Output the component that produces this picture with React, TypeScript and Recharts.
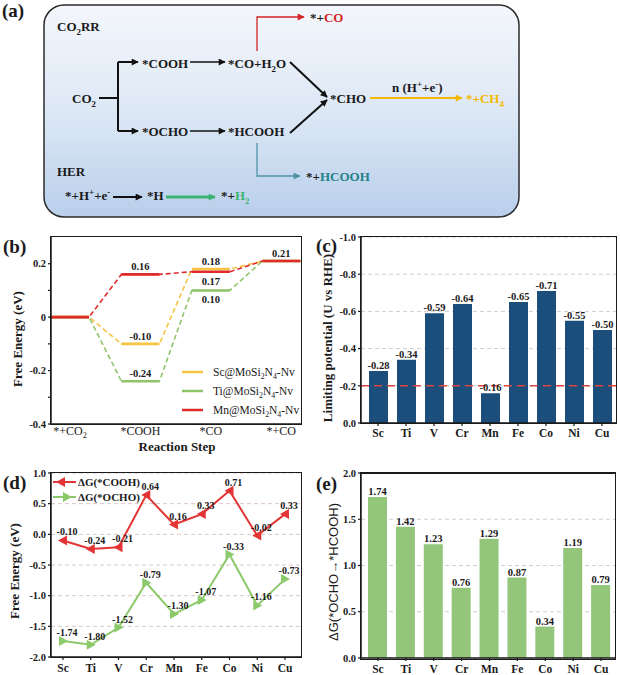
import React from "react";
import {
  LineChart,
  Line,
  BarChart,
  Bar,
  XAxis,
  YAxis,
  CartesianGrid,
  ReferenceLine,
  LabelList,
  Legend,
} from "recharts";

const SERIF = '"Liberation Serif", "Times New Roman", Times, serif';
const SANS = '"Liberation Sans", Arial, sans-serif';
const INK = "#1a1a1a";

// (b) free energy profile
const steps = ["*+CO2", "*COOH", "*CO", "*+CO"];
const scLevels = [0, -0.1, 0.18, 0.21];
const tiLevels = [0, -0.24, 0.1, 0.21];
const mnLevels = [0, 0.16, 0.17, 0.21];
const energyTicks = [-0.4, -0.3, -0.2, -0.1, 0, 0.1, 0.2];
const energyTickLabels = ["-0.4", "", "-0.2", "", "0", "", "0.2"];

// (c) limiting potential
const metals = ["Sc", "Ti", "V", "Cr", "Mn", "Fe", "Co", "Ni", "Cu"];
const limitingPotential = [-0.28, -0.34, -0.59, -0.64, -0.16, -0.65, -0.71, -0.55, -0.5];
const potentialTicks = [-1, -0.8, -0.6, -0.4, -0.2, 0];

// (d) adsorption free energies
const dgCOOH = [-0.1, -0.24, -0.21, 0.64, 0.16, 0.33, 0.71, -0.02, 0.33];
const dgOCHO = [-1.74, -1.8, -1.52, -0.79, -1.3, -1.07, -0.33, -1.16, -0.73];
const adsorptionTicks = [-2, -1.5, -1, -0.5, 0, 0.5, 1];

// (e) *OCHO -> *HCOOH
const dgOchoToHcooh = [1.74, 1.42, 1.23, 0.76, 1.29, 0.87, 0.34, 1.19, 0.79];
const barrierTicks = [0, 0.5, 1, 1.5, 2];

const C_SC = "#f7c443";
const C_TI = "#8fc46b";
const C_MN = "#e02b2b";
const C_NAVY = "#1c4e7b";
const C_GREEN_BAR = "#93c57a";
const C_RED = "#e33535";
const C_GREEN = "#8cc96b";

// subscripts for digits in chemical names
function chem(text: string, size: number) {
  const parts = text.split(/(\d+)/).filter((p) => p !== "");
  let lowered = false;
  return parts.map((part, i) => {
    if (/^\d+$/.test(part)) {
      lowered = true;
      return (
        <tspan key={i} fontSize={size * 0.68} dy={size * 0.28}>
          {part}
        </tspan>
      );
    }
    const dy = lowered ? -size * 0.28 : 0;
    lowered = false;
    return (
      <tspan key={i} dy={dy}>
        {part}
      </tspan>
    );
  });
}

// rows for the step diagram: each level is a short flat segment, gaps between
const HALF = 0.27;
const levelRows: any[] = [];
steps.forEach((_, i) => {
  [-HALF, 0, HALF].forEach((dx) =>
    levelRows.push({
      x: i + dx,
      step: dx === 0 ? i : undefined,
      sc: scLevels[i],
      ti: tiLevels[i],
      mn: mnLevels[i],
      scDash: scLevels[i],
      tiDash: tiLevels[i],
      mnDash: mnLevels[i],
    })
  );
  if (i < steps.length - 1) {
    levelRows.push({ x: i + 0.5, sc: null, ti: null, mn: null, scDash: null, tiDash: null, mnDash: null });
  }
});

const labelPlaces: Record<string, (string | null)[]> = {
  sc: [null, "above", "above", null],
  ti: [null, "above", "below", null],
  mn: [null, "above", "below", "above"],
};

const levelLabel = (key: string) => (props: any) => {
  const { x, y, index } = props;
  const row = levelRows[index];
  if (!row || row.step === undefined) return null;
  const place = labelPlaces[key][row.step];
  if (!place) return null;
  return (
    <text
      key={`${key}-${index}`}
      x={x}
      y={place === "above" ? y - 4 : y + 13}
      textAnchor="middle"
      fontFamily={SERIF}
      fontWeight="bold"
      fontSize={10.5}
      fill={INK}
    >
      {row[key].toFixed(2)}
    </text>
  );
};

const StepTick = (props: any) => {
  const { x, y, payload } = props;
  return (
    <text x={x} y={y + 3} textAnchor="middle" fontFamily={SERIF} fontSize={12} fill={INK}>
      {chem(steps[payload.value], 12)}
    </text>
  );
};

const catalysts = [
  { name: "Sc@MoSi2N4-Nv", color: C_SC },
  { name: "Ti@MoSi2N4-Nv", color: C_TI },
  { name: "Mn@MoSi2N4-Nv", color: C_MN },
];

const StepLegend = () => (
  <svg width={130} height={60}>
    {catalysts.map((c, i) => (
      <g key={c.name}>
        <line x1={4} x2={25} y1={9 + i * 19} y2={9 + i * 19} stroke={c.color} strokeWidth={2.5} />
        <text x={35} y={13 + i * 19} fontFamily={SERIF} fontSize={11.5} fill={INK}>
          {chem(c.name, 11.5)}
        </text>
      </g>
    ))}
  </svg>
);

const metalRows = metals.map((m, i) => ({
  metal: m,
  ul: limitingPotential[i],
  cooh: dgCOOH[i],
  ocho: dgOCHO[i],
  barrier: dgOchoToHcooh[i],
}));

const Triangle = ({ cx, cy, dir, color }: any) => {
  if (cx == null || cy == null) return null;
  const pts =
    dir === "left"
      ? `${cx - 5},${cy} ${cx + 4},${cy - 5} ${cx + 4},${cy + 5}`
      : `${cx + 5},${cy} ${cx - 4},${cy - 5} ${cx - 4},${cy + 5}`;
  return <polygon points={pts} fill={color} />;
};

const pointLabel = (props: any) => {
  const { x, y, value, index } = props;
  return (
    <text
      key={`pl-${index}-${value}`}
      x={x + 4}
      y={y - 5}
      textAnchor="middle"
      fontFamily={SERIF}
      fontWeight="bold"
      fontSize={10}
      fill={INK}
    >
      {Number(value).toFixed(2)}
    </text>
  );
};

const adsorptionSeries = [
  { name: "ΔG(*COOH)", color: C_RED, dir: "left" },
  { name: "ΔG(*OCHO)", color: C_GREEN, dir: "right" },
];

const AdsorptionLegend = () => (
  <svg width={100} height={36}>
    {adsorptionSeries.map((s, i) => (
      <g key={s.name}>
        <line x1={2} x2={25} y1={8 + i * 15} y2={8 + i * 15} stroke={s.color} strokeWidth={2} />
        <Triangle cx={s.dir === "left" ? 10 : 16} cy={8 + i * 15} dir={s.dir} color={s.color} />
        <text x={27} y={12 + i * 15} fontFamily={SERIF} fontWeight="bold" fontSize={11} fill={INK}>
          {s.name}
        </text>
      </g>
    ))}
  </svg>
);

const axisLine = { stroke: INK, strokeWidth: 1.5 };
const tickLine = { stroke: INK, strokeWidth: 1.2 };
const yTick = { fontFamily: SERIF, fontWeight: "bold", fontSize: 10.5, fill: INK };
const xTick = { fontFamily: SERIF, fontWeight: "bold", fontSize: 11.5, fill: INK };

const panelLabel = (text: string, left: number, top: number) => (
  <div
    style={{
      position: "absolute",
      left,
      top,
      fontFamily: SERIF,
      fontWeight: "bold",
      fontSize: 19,
      lineHeight: "20px",
      color: INK,
    }}
  >
    {text}
  </div>
);

// plot frame (top and right sides of the box around each panel)
const plotFrame = (left: number, top: number, width: number, height: number, topWidth = 1.5) => (
  <div
    style={{
      position: "absolute",
      left: left - 0.75,
      top: top - 0.75,
      width,
      height,
      border: `1.5px solid ${INK}`,
      borderTopWidth: topWidth,
      pointerEvents: "none",
    }}
  />
);

const axisTitle = (text: string, cx: number, cy: number, rotate: boolean, font = SERIF, weight = "bold") => (
  <div
    style={{
      position: "absolute",
      left: cx,
      top: cy,
      transform: `translate(-50%, -50%)${rotate ? " rotate(-90deg)" : ""}`,
      whiteSpace: "nowrap",
      fontFamily: font,
      fontWeight: weight as any,
      fontSize: 13,
      color: INK,
    }}
  >
    {text}
  </div>
);

function Scheme() {
  const fs = 13;
  const T = ({ x, y, fill = INK, children }: any) => (
    <text x={x} y={y} fontFamily={SERIF} fontWeight="bold" fontSize={fs} fill={fill}>
      {children}
    </text>
  );
  return (
    <svg width={620} height={222} style={{ position: "absolute", left: 0, top: 0 }}>
      <defs>
        <linearGradient id="schemeBg" x1="0" y1="0" x2="0" y2="1">
          <stop offset="0" stopColor="#f4f7fc" />
          <stop offset="0.5" stopColor="#dde8f5" />
          <stop offset="1" stopColor="#b9cfeb" />
        </linearGradient>
        {[
          ["ahBlack", "#111"],
          ["ahRed", "#d42424"],
          ["ahOrange", "#f5b800"],
          ["ahTeal", "#4f93a6"],
          ["ahGreen", "#3cb371"],
        ].map(([id, c]) => (
          <marker
            key={id}
            id={id}
            viewBox="0 0 10 10"
            refX={9}
            refY={5}
            markerWidth={8}
            markerHeight={7}
            markerUnits="userSpaceOnUse"
            orient="auto"
          >
            <path d="M0,0 L10,5 L0,10 z" fill={c} />
          </marker>
        ))}
      </defs>
      <text x={2} y={17} fontFamily={SERIF} fontWeight="bold" fontSize={19} fill={INK}>
        (a)
      </text>
      <rect x={44} y={5} width={475} height={212} rx={20} fill="url(#schemeBg)" stroke="#2b2b2b" strokeWidth={1.5} />

      <g stroke="#111" strokeWidth={2} fill="none">
        <path d="M99,98 H118 M118,62 V131" />
        <path d="M118,62 H138" markerEnd="url(#ahBlack)" />
        <path d="M118,131 H138" markerEnd="url(#ahBlack)" />
        <path d="M190,62 H225" markerEnd="url(#ahBlack)" strokeWidth={1.6} />
        <path d="M190,131 H225" markerEnd="url(#ahBlack)" strokeWidth={1.6} />
        <path d="M290,62 L327,97" markerEnd="url(#ahBlack)" />
        <path d="M290,133 L327,100" markerEnd="url(#ahBlack)" />
        <path d="M113,197 H142" markerEnd="url(#ahBlack)" />
      </g>
      <path d="M257,51 V17 H304" stroke="#d42424" strokeWidth={1.3} fill="none" markerEnd="url(#ahRed)" />
      <path d="M370,98 H462" stroke="#f5b800" strokeWidth={2.2} fill="none" markerEnd="url(#ahOrange)" />
      <path d="M257,143 V176 H300" stroke="#4f93a6" strokeWidth={1.3} fill="none" markerEnd="url(#ahTeal)" />
      <path d="M166,197 H215" stroke="#3cb371" strokeWidth={3} fill="none" markerEnd="url(#ahGreen)" />

      <T x={57} y={31}>{chem("CO2RR", fs)}</T>
      <T x={142} y={68}>*COOH</T>
      <T x={228} y={68}>{chem("*CO+H2O", fs)}</T>
      <T x={72} y={103}>{chem("CO2", fs)}</T>
      <T x={330} y={103}>*CHO</T>
      <T x={142} y={136}>*OCHO</T>
      <T x={228} y={136}>*HCOOH</T>
      <T x={392} y={92}>
        n (H<tspan fontSize={9} dy={-5}>+</tspan>
        <tspan dy={5}>+e</tspan>
        <tspan fontSize={9} dy={-5}>-</tspan>
        <tspan dy={5}>)</tspan>
      </T>
      <T x={466} y={103} fill="#f5b800">{chem("*+CH4", fs)}</T>
      <T x={310} y={22}>
        *+<tspan fill="#d42424">CO</tspan>
      </T>
      <T x={57} y={176}>HER</T>
      <T x={306} y={181}>
        *+<tspan fill="#23828a">HCOOH</tspan>
      </T>
      <T x={65} y={200}>
        *+H<tspan fontSize={9} dy={-5}>+</tspan>
        <tspan dy={5}>+e</tspan>
        <tspan fontSize={9} dy={-5}>-</tspan>
      </T>
      <T x={147} y={200}>*H</T>
      <T x={221} y={200}>
        *+<tspan fill="#3cb371">H</tspan>
        <tspan fill="#3cb371" fontSize={fs * 0.68} dy={fs * 0.28}>2</tspan>
      </T>
    </svg>
  );
}

export default function App() {
  return (
    <div style={{ position: "absolute", left: 0, top: 0, width: 620, height: 675, background: "#fff", overflow: "hidden" }}>
      <Scheme />

      {/* (b) */}
      <div style={{ position: "absolute", left: 0, top: 230 }}>
        <LineChart width={310} height={225} data={levelRows} margin={{ top: 7, right: 9, bottom: 5, left: 0 }}>
          <XAxis
            type="number"
            dataKey="x"
            domain={[-HALF, 3 + 0.28]}
            ticks={[0, 1, 2, 3]}
            allowDataOverflow
            height={26}
            axisLine={axisLine}
            tickLine={false}
            tick={<StepTick />}
          />
          <YAxis
            width={51}
            domain={[-0.4, 0.3]}
            ticks={energyTicks}
            allowDataOverflow
            tickFormatter={(v: number) => energyTickLabels[energyTicks.indexOf(v)] ?? ""}
            axisLine={axisLine}
            tickLine={tickLine}
            tickSize={3}
            tickMargin={2}
            tick={yTick}
          />
          <Line dataKey="scDash" stroke={C_SC} strokeWidth={1.6} strokeDasharray="5 3" dot={false} connectNulls isAnimationActive={false} />
          <Line dataKey="tiDash" stroke={C_TI} strokeWidth={1.6} strokeDasharray="5 3" dot={false} connectNulls isAnimationActive={false} />
          <Line dataKey="mnDash" stroke={C_MN} strokeWidth={1.6} strokeDasharray="5 3" dot={false} connectNulls isAnimationActive={false} />
          <Line dataKey="sc" stroke={C_SC} strokeWidth={2.6} dot={false} isAnimationActive={false}>
            <LabelList dataKey="sc" content={levelLabel("sc")} />
          </Line>
          <Line dataKey="ti" stroke={C_TI} strokeWidth={2.6} dot={false} isAnimationActive={false}>
            <LabelList dataKey="ti" content={levelLabel("ti")} />
          </Line>
          <Line dataKey="mn" stroke={C_MN} strokeWidth={2.6} dot={false} isAnimationActive={false}>
            <LabelList dataKey="mn" content={levelLabel("mn")} />
          </Line>
          <Legend
            layout="vertical"
            align="center"
            verticalAlign="middle"
            content={() => <StepLegend />}
            wrapperStyle={{ position: "absolute", left: 178, top: 133, width: 130, height: 60 }}
          />
        </LineChart>
      </div>
      {plotFrame(51, 237, 250, 187)}
      {panelLabel("(b)", 3, 237)}
      {axisTitle("Free Energy (eV)", 18, 339, true)}
      {axisTitle("Reaction Step", 177, 447, false)}

      {/* (c) */}
      <div style={{ position: "absolute", left: 310, top: 230 }}>
        <BarChart width={310} height={225} data={metalRows} margin={{ top: 7, right: 4, bottom: 5, left: 0 }}>
          <CartesianGrid vertical={false} stroke="#cfcfcf" strokeDasharray="4 3" />
          <XAxis
            dataKey="metal"
            height={27}
            padding={{ left: 3, right: 0 }}
            axisLine={axisLine}
            tickLine={tickLine}
            tickSize={3}
            tickMargin={3}
            tick={xTick}
          />
          <YAxis
            width={51}
            reversed
            domain={[-1, 0]}
            ticks={potentialTicks}
            tickFormatter={(v: number) => v.toFixed(1)}
            axisLine={axisLine}
            tickLine={tickLine}
            tickSize={3}
            tickMargin={2}
            tick={yTick}
          />
          <Bar dataKey="ul" fill={C_NAVY} barSize={19} isAnimationActive={false}>
            <LabelList
              dataKey="ul"
              position="top"
              offset={2}
              formatter={(v: any) => Number(v).toFixed(2)}
              style={{ fontFamily: SERIF, fontWeight: "bold", fontSize: 10.5, fill: INK }}
            />
          </Bar>
          <ReferenceLine y={-0.2} stroke="#e0443e" strokeWidth={1.6} strokeDasharray="8 5" />
        </BarChart>
      </div>
      {plotFrame(361, 237, 255, 186)}
      {panelLabel("(c)", 316, 236)}
      {axisTitle("Limiting potential (U vs RHE)", 328, 338, true)}

      {/* (d) */}
      <div style={{ position: "absolute", left: 0, top: 450 }}>
        <LineChart width={310} height={225} data={metalRows} margin={{ top: 23, right: 9, bottom: 0, left: 0 }}>
          <CartesianGrid vertical={false} stroke="#dcc6c6" strokeDasharray="4 3" />
          <XAxis
            dataKey="metal"
            height={18}
            padding={{ left: 12, right: 16 }}
            axisLine={axisLine}
            tickLine={tickLine}
            tickSize={3}
            tickMargin={4}
            tick={xTick}
          />
          <YAxis
            width={51}
            domain={[-2, 1]}
            ticks={adsorptionTicks}
            tickFormatter={(v: number) => v.toFixed(1)}
            axisLine={axisLine}
            tickLine={tickLine}
            tickSize={3}
            tickMargin={2}
            tick={yTick}
          />
          <Line
            dataKey="cooh"
            stroke={C_RED}
            strokeWidth={2}
            isAnimationActive={false}
            dot={(p: any) => <Triangle key={`c-${p.index}`} cx={p.cx} cy={p.cy} dir="left" color={C_RED} />}
          >
            <LabelList dataKey="cooh" content={pointLabel} />
          </Line>
          <Line
            dataKey="ocho"
            stroke={C_GREEN}
            strokeWidth={2}
            isAnimationActive={false}
            dot={(p: any) => <Triangle key={`o-${p.index}`} cx={p.cx} cy={p.cy} dir="right" color={C_GREEN} />}
          >
            <LabelList dataKey="ocho" content={pointLabel} />
          </Line>
          <Legend
            layout="vertical"
            align="center"
            verticalAlign="middle"
            content={() => <AdsorptionLegend />}
            wrapperStyle={{ position: "absolute", left: 51, top: 24, width: 100, height: 36 }}
          />
        </LineChart>
      </div>
      {plotFrame(51, 473, 250, 184)}
      {panelLabel("(d)", 3, 473)}
      {axisTitle("Free Energy (eV)", 15, 571, true)}

      {/* (e) */}
      <div style={{ position: "absolute", left: 310, top: 450 }}>
        <BarChart width={310} height={225} data={metalRows} margin={{ top: 23, right: 5, bottom: 0, left: 0 }}>
          <CartesianGrid vertical={false} stroke="#cfcfcf" strokeDasharray="4 3" />
          <XAxis
            dataKey="metal"
            height={17}
            padding={{ left: 3, right: 0 }}
            axisLine={axisLine}
            tickLine={tickLine}
            tickSize={3}
            tickMargin={4}
            tick={xTick}
          />
          <YAxis
            width={51}
            domain={[0, 2]}
            ticks={barrierTicks}
            tickFormatter={(v: number) => v.toFixed(1)}
            axisLine={axisLine}
            tickLine={tickLine}
            tickSize={3}
            tickMargin={2}
            tick={yTick}
          />
          <Bar dataKey="barrier" fill={C_GREEN_BAR} barSize={19} isAnimationActive={false}>
            <LabelList
              dataKey="barrier"
              position="top"
              offset={2}
              formatter={(v: any) => Number(v).toFixed(2)}
              style={{ fontFamily: SERIF, fontWeight: "bold", fontSize: 10.5, fill: INK }}
            />
          </Bar>
        </BarChart>
      </div>
      {plotFrame(361, 473, 254, 185, 2.5)}
      {panelLabel("(e)", 316, 474)}
      {axisTitle("ΔG(*OCHO→*HCOOH)", 333, 572, true, SANS, "normal")}
    </div>
  );
}
